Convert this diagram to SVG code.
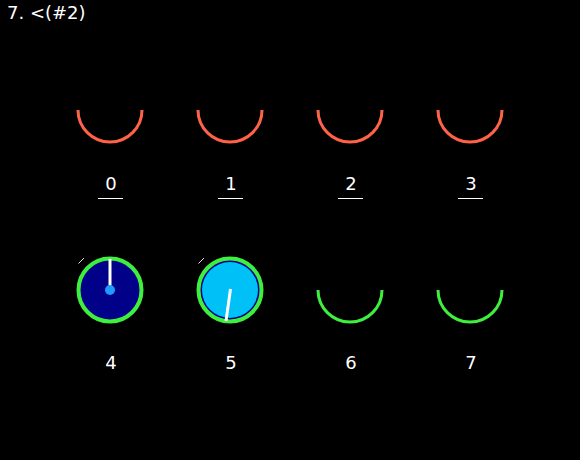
<svg xmlns="http://www.w3.org/2000/svg" width="580" height="460" viewBox="0 0 580 460">
<style>
text{font-family:"DejaVu Sans","Liberation Sans",sans-serif;font-size:18px;fill:#fff}
.lbl{text-anchor:middle}
.arcR{fill:none;stroke:#ff6347;stroke-width:3}
.arcG{fill:none;stroke:#3ef03e;stroke-width:3}
.ring{stroke:#3ef03e;stroke-width:4}
.tick{stroke:#ddd;stroke-width:1}
.hand{stroke:#fff;stroke-width:3}
</style>
<rect width="580" height="460" fill="#000"/>
<text x="7" y="19">7. &lt;(#2)</text>
<g id="node0"><path class="arcR" d="M78,110 A32,32 0 0 0 142,110"/><text class="lbl" x="111" y="190">0</text><line x1="98" y1="198.5" x2="123" y2="198.5" stroke="#fff" stroke-width="1"/></g>
<g id="node1"><path class="arcR" d="M198,110 A32,32 0 0 0 262,110"/><text class="lbl" x="231" y="190">1</text><line x1="218" y1="198.5" x2="243" y2="198.5" stroke="#fff" stroke-width="1"/></g>
<g id="node2"><path class="arcR" d="M318,110 A32,32 0 0 0 382,110"/><text class="lbl" x="351" y="190">2</text><line x1="338" y1="198.5" x2="363" y2="198.5" stroke="#fff" stroke-width="1"/></g>
<g id="node3"><path class="arcR" d="M438,110 A32,32 0 0 0 502,110"/><text class="lbl" x="471" y="190">3</text><line x1="458" y1="198.5" x2="483" y2="198.5" stroke="#fff" stroke-width="1"/></g>
<g id="node4">
<line class="tick" x1="78.5" y1="263.5" x2="84" y2="258"/>
<circle class="ring" cx="110" cy="290" r="31.5" fill="#000088"/>
<line class="hand" x1="110" y1="259" x2="110" y2="290"/>
<circle cx="110" cy="290" r="5" fill="#1e9bff"/>
<text class="lbl" x="111" y="369">4</text>
</g>
<g id="node5">
<line class="tick" x1="198.5" y1="263.5" x2="204" y2="258"/>
<circle class="ring" cx="230" cy="290" r="31.5" fill="#000088"/>
<circle cx="230" cy="290" r="28" fill="#00c0f8"/>
<line class="hand" x1="230.5" y1="289" x2="226" y2="321"/>
<text class="lbl" x="231" y="369">5</text>
</g>
<g id="node6"><path class="arcG" d="M318,290 A32,32 0 0 0 382,290"/><text class="lbl" x="351" y="369">6</text></g>
<g id="node7"><path class="arcG" d="M438,290 A32,32 0 0 0 502,290"/><text class="lbl" x="471" y="369">7</text></g>
<g id="connectors"></g>
</svg>
